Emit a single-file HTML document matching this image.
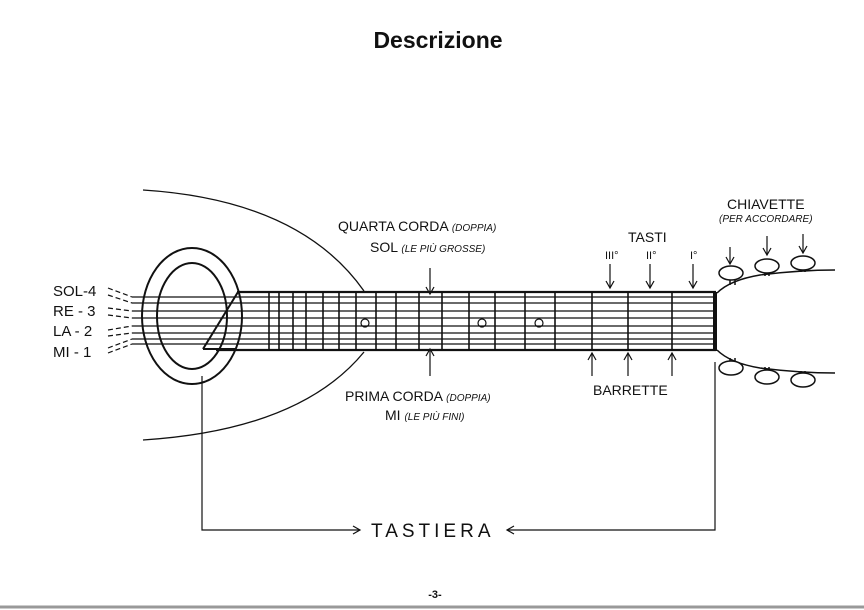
<!DOCTYPE html>
<html><head><meta charset="utf-8"><style>
html,body{margin:0;padding:0;background:#fff}
svg{display:block}
text{font-family:"Liberation Sans",sans-serif;fill:#111}
</style></head><body>
<svg width="864" height="610" viewBox="0 0 864 610" xmlns="http://www.w3.org/2000/svg">
<defs>
<marker id="ah" markerWidth="10" markerHeight="10" refX="8" refY="5" orient="auto" markerUnits="userSpaceOnUse">
<path d="M1,1 L8,5 L1,9" fill="none" stroke="#111" stroke-width="1.2"/></marker>
</defs>
<rect x="0" y="0" width="864" height="610" fill="#fff"/>
<line x1="0" y1="607" x2="864" y2="607" stroke="#999" stroke-width="3"/>
<text x="438" y="48" font-size="23" font-weight="bold" text-anchor="middle">Descrizione</text>

<g stroke="#111" fill="none">
<!-- body arcs -->
<path d="M143,190 Q300,200 364,291" stroke-width="1.3"/>
<path d="M143,440 Q300,430 364,352" stroke-width="1.3"/>
<!-- rosette -->
<ellipse cx="192" cy="316" rx="50" ry="68" stroke-width="2"/>
<ellipse cx="192" cy="316" rx="35" ry="53" stroke-width="2"/>
<!-- strings left -->
<g stroke-width="1.2">
<line x1="132" y1="297" x2="716" y2="297"/><line x1="132" y1="303" x2="716" y2="303"/>
<line x1="132" y1="311" x2="716" y2="311"/><line x1="132" y1="318" x2="716" y2="318"/>
<line x1="132" y1="326" x2="716" y2="326"/><line x1="132" y1="333" x2="716" y2="333"/>
<line x1="132" y1="339" x2="716" y2="339"/><line x1="132" y1="344" x2="716" y2="344"/>
</g>
<g stroke-width="1.2" stroke-dasharray="5,3">
<line x1="108" y1="288" x2="132" y2="297"/><line x1="108" y1="295" x2="132" y2="303"/>
<line x1="108" y1="308" x2="132" y2="311"/><line x1="108" y1="315" x2="132" y2="318"/>
<line x1="108" y1="330" x2="132" y2="326"/><line x1="108" y1="336" x2="132" y2="333"/>
<line x1="108" y1="348" x2="132" y2="339"/><line x1="108" y1="353" x2="132" y2="344"/>
</g>
<!-- fretboard edges -->
<line x1="237" y1="292" x2="716" y2="292" stroke-width="2.2"/>
<line x1="216" y1="350" x2="716" y2="350" stroke-width="2.2"/>
<!-- bridge -->
<path d="M203,349 L238,292" stroke-width="2"/>
<line x1="203" y1="349" x2="236" y2="349" stroke-width="2"/>
<!-- frets -->
<g stroke-width="1.6">
<line x1="269" y1="292" x2="269" y2="350"/><line x1="279" y1="292" x2="279" y2="350"/>
<line x1="293" y1="292" x2="293" y2="350"/><line x1="306" y1="292" x2="306" y2="350"/>
<line x1="323" y1="292" x2="323" y2="350"/><line x1="339" y1="292" x2="339" y2="350"/>
<line x1="356" y1="292" x2="356" y2="350"/><line x1="376" y1="292" x2="376" y2="350"/>
<line x1="396" y1="292" x2="396" y2="350"/><line x1="419" y1="292" x2="419" y2="350"/>
<line x1="442" y1="292" x2="442" y2="350"/><line x1="469" y1="292" x2="469" y2="350"/>
<line x1="495" y1="292" x2="495" y2="350"/><line x1="525" y1="292" x2="525" y2="350"/>
<line x1="555" y1="292" x2="555" y2="350"/><line x1="592" y1="292" x2="592" y2="350"/>
<line x1="628" y1="292" x2="628" y2="350"/><line x1="672" y1="292" x2="672" y2="350"/>
</g>
<line x1="715" y1="292" x2="715" y2="351" stroke-width="4"/>
<circle cx="365" cy="323" r="4" stroke-width="1.2"/>
<circle cx="482" cy="323" r="4" stroke-width="1.2"/>
<circle cx="539" cy="323" r="4" stroke-width="1.2"/>
<!-- head -->
<path d="M717,293 Q730,280 760,275 Q800,270 835,270" stroke-width="1.5"/>
<path d="M717,350 Q730,363 760,368 Q800,373 835,373" stroke-width="1.5"/>
<g stroke-width="1.5">
<line x1="730" y1="285" x2="730" y2="280"/><line x1="735" y1="285" x2="735" y2="280"/>
<line x1="765" y1="276" x2="765" y2="272"/><line x1="769" y1="276" x2="769" y2="272"/>
<line x1="801" y1="272" x2="801" y2="270"/><line x1="805" y1="272" x2="805" y2="270"/>
<line x1="730" y1="358" x2="730" y2="362"/><line x1="735" y1="358" x2="735" y2="362"/>
<line x1="765" y1="367" x2="765" y2="371"/><line x1="769" y1="367" x2="769" y2="371"/>
<line x1="801" y1="371" x2="801" y2="373"/><line x1="805" y1="371" x2="805" y2="373"/>
</g>
<g fill="#fff" stroke-width="1.5">
<ellipse cx="731" cy="273" rx="12" ry="7"/><ellipse cx="767" cy="266" rx="12" ry="7"/><ellipse cx="803" cy="263" rx="12" ry="7"/>
<ellipse cx="731" cy="368" rx="12" ry="7"/><ellipse cx="767" cy="377" rx="12" ry="7"/><ellipse cx="803" cy="380" rx="12" ry="7"/>
</g>
<!-- arrows -->
<g stroke-width="1.2" marker-end="url(#ah)">
<line x1="430" y1="268" x2="430" y2="294"/>
<line x1="430" y1="376" x2="430" y2="349"/>
<line x1="610" y1="264" x2="610" y2="288"/>
<line x1="650" y1="264" x2="650" y2="288"/>
<line x1="693" y1="264" x2="693" y2="288"/>
<line x1="592" y1="376" x2="592" y2="353"/>
<line x1="628" y1="376" x2="628" y2="353"/>
<line x1="672" y1="376" x2="672" y2="353"/>
<line x1="730" y1="247" x2="730" y2="264"/>
<line x1="767" y1="236" x2="767" y2="255"/>
<line x1="803" y1="234" x2="803" y2="253"/>
<path d="M202,376 L202,530 L360,530"/>
<path d="M715,362 L715,530 L507,530"/>
</g>
</g>
<!-- labels -->
<g font-size="15">
<text x="53" y="296">SOL-4</text>
<text x="53" y="316">RE - 3</text>
<text x="53" y="336">LA - 2</text>
<text x="53" y="357">MI - 1</text>
<text x="338" y="231" font-size="14">QUARTA CORDA <tspan font-size="10" font-style="italic">(DOPPIA)</tspan></text>
<text x="370" y="252" font-size="14">SOL <tspan font-size="10" font-style="italic">(LE PIÙ GROSSE)</tspan></text>
<text x="345" y="401" font-size="14">PRIMA CORDA <tspan font-size="10" font-style="italic">(DOPPIA)</tspan></text>
<text x="385" y="420" font-size="14">MI <tspan font-size="10" font-style="italic">(LE PIÙ FINI)</tspan></text>
<text x="628" y="242" font-size="14">TASTI</text>
<text x="605" y="259" font-size="11">III°</text>
<text x="646" y="259" font-size="11">II°</text>
<text x="690" y="259" font-size="11">I°</text>
<text x="593" y="395" font-size="14">BARRETTE</text>
<text x="727" y="209" font-size="14">CHIAVETTE</text>
<text x="719" y="222" font-size="10" font-style="italic">(PER ACCORDARE)</text>
<text x="371" y="537" font-size="19" letter-spacing="4">TASTIERA</text>
<text x="435" y="598" font-size="11" font-weight="bold" text-anchor="middle">-3-</text>
</g>
</svg>
</body></html>
